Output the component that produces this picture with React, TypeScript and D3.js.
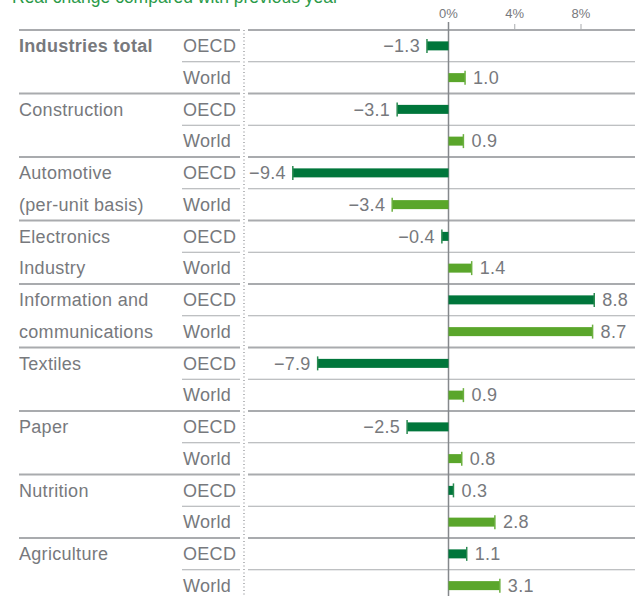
import React, { useEffect, useRef } from 'react';
import * as d3 from 'd3';

const categories = [
  ['Industries total'],
  ['Construction'],
  ['Automotive', '(per-unit basis)'],
  ['Electronics', 'Industry'],
  ['Information and', 'communications'],
  ['Textiles'],
  ['Paper'],
  ['Nutrition'],
  ['Agriculture'],
];
const regions = ['OECD', 'World'];
const oecdValues = [-1.3, -3.1, -9.4, -0.4, 8.8, -7.9, -2.5, 0.3, 1.1];
const worldValues = [1.0, 0.9, -3.4, 1.4, 8.7, 0.9, 0.8, 2.8, 3.1];
const tickValues = [0, 4, 8];
const title = 'Real change compared with previous year';

const W = 635;
const H = 596;
const darkGreen = '#00763b';
const lightGreen = '#5aa62b';
const textGray = '#77797d';
const lineGray = '#a9abae';
const font = '"Liberation Sans", Arial, sans-serif';

const fmt = (v: number) => (v < 0 ? '\u2212' + Math.abs(v).toFixed(1) : v.toFixed(1));

const App = () => {
  const svgRef = useRef<SVGSVGElement>(null);

  useEffect(() => {
    const svg = d3.select(svgRef.current);
    svg.selectAll('*').remove();

    const top = 30;
    const rowH = 31.75;
    const rows = categories.flatMap((c, i) => [
      { cat: i, sub: 0, label: c[0], region: regions[0], value: oecdValues[i] },
      { cat: i, sub: 1, label: c[1] || '', region: regions[1], value: worldValues[i] },
    ]);

    const y = d3.scaleBand<number>()
      .domain(d3.range(rows.length))
      .range([top, top + rows.length * rowH]);
    const x = d3.scaleLinear().domain([0, 8]).range([448.5, 581]);

    const dotX = 244;

    // title, cut by the top edge as in the source
    svg.append('text')
      .attr('x', 12)
      .attr('y', 3)
      .attr('fill', '#2a9a48')
      .style('font-family', font)
      .style('font-size', '17.5px')
      .text(title);

    // axis ticks
    const axis = svg.append('g');
    axis.selectAll('line')
      .data(tickValues.slice(1))
      .enter()
      .append('line')
      .attr('x1', d => x(d))
      .attr('x2', d => x(d))
      .attr('y1', 24)
      .attr('y2', top)
      .attr('stroke', lineGray)
      .attr('stroke-width', 1);
    axis.selectAll('text')
      .data(tickValues)
      .enter()
      .append('text')
      .attr('x', d => x(d))
      .attr('y', 18)
      .attr('text-anchor', 'middle')
      .attr('fill', textGray)
      .style('font-family', font)
      .style('font-size', '13px')
      .text(d => d + '%');

    // separators
    const seps = svg.append('g');
    rows.forEach((r, i) => {
      const yy = y(i)!;
      const x1 = r.sub === 0 ? 19 : 182;
      seps.append('line')
        .attr('x1', x1).attr('x2', dotX - 4)
        .attr('y1', yy).attr('y2', yy)
        .attr('stroke', lineGray)
        .attr('stroke-width', r.sub === 0 ? 1.8 : 1.2);
      seps.append('line')
        .attr('x1', dotX + 4).attr('x2', W)
        .attr('y1', yy).attr('y2', yy)
        .attr('stroke', lineGray)
        .attr('stroke-width', r.sub === 0 ? 1.8 : 1.2);
    });

    // dotted divider
    svg.append('line')
      .attr('x1', dotX).attr('x2', dotX)
      .attr('y1', top).attr('y2', H)
      .attr('stroke', '#8a8d91')
      .attr('stroke-width', 1.2)
      .attr('stroke-dasharray', '1,2.5');

    // labels
    const labels = svg.append('g')
      .style('font-family', font)
      .style('font-size', '18px')
      .style('letter-spacing', '0.3px')
      .attr('fill', textGray);
    rows.forEach((r, i) => {
      const cy = y(i)! + y.bandwidth() / 2;
      labels.append('text')
        .attr('x', 19)
        .attr('y', cy)
        .attr('dy', '0.35em')
        .style('font-weight', r.cat === 0 && r.sub === 0 ? 'bold' : 'normal')
        .text(r.label);
      labels.append('text')
        .attr('x', 183)
        .attr('y', cy)
        .attr('dy', '0.35em')
        .text(r.region);
    });

    // zero line
    svg.append('line')
      .attr('x1', x(0)).attr('x2', x(0))
      .attr('y1', 22).attr('y2', H)
      .attr('stroke', '#85888c')
      .attr('stroke-width', 1.5);

    // bars
    const bars = svg.append('g')
      .selectAll('g')
      .data(rows)
      .enter()
      .append('g')
      .attr('transform', (d, i) => `translate(0,${y(i)! + y.bandwidth() / 2})`);

    bars.append('rect')
      .attr('x', d => Math.min(x(0), x(d.value)))
      .attr('y', -4.5)
      .attr('width', d => Math.abs(x(d.value) - x(0)))
      .attr('height', 9)
      .attr('fill', d => (d.sub === 0 ? darkGreen : lightGreen));

    bars.append('line')
      .attr('x1', d => x(d.value))
      .attr('x2', d => x(d.value))
      .attr('y1', -7)
      .attr('y2', 7)
      .attr('stroke', d => (d.sub === 0 ? '#2a8a50' : '#6cb040'))
      .attr('stroke-width', 1.5);

    bars.append('text')
      .attr('x', d => (d.value < 0 ? x(d.value) - 7 : x(d.value) + 8))
      .attr('dy', '0.35em')
      .attr('text-anchor', d => (d.value < 0 ? 'end' : 'start'))
      .attr('fill', textGray)
      .style('font-family', font)
      .style('font-size', '18px')
      .style('letter-spacing', '0.3px')
      .text(d => fmt(d.value));
  }, []);

  return (
    <svg
      ref={svgRef}
      width={W}
      height={H}
      style={{ position: 'absolute', left: 0, top: 0, background: '#fff' }}
    />
  );
};

export default App;
